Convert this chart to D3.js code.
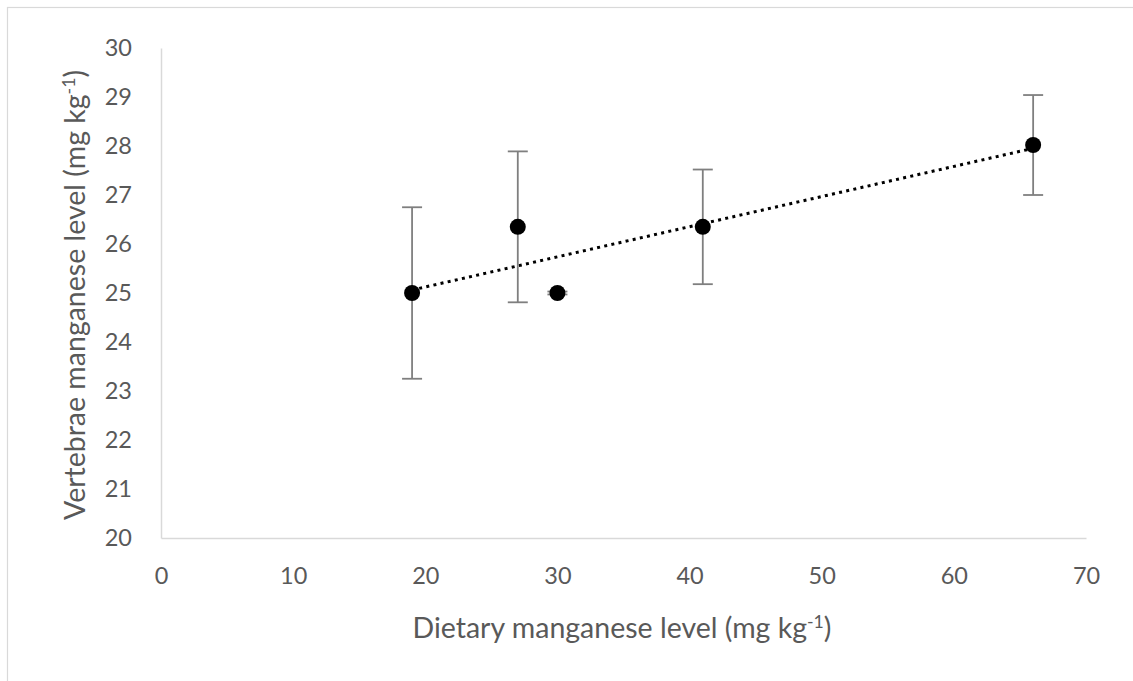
<!DOCTYPE html>
<html>
<head>
<meta charset="utf-8">
<script src="https://cdn.jsdelivr.net/npm/d3@7"></script>
<style>
  html, body { margin: 0; padding: 0; background: #fff; }
  svg { display: block; }
  .axis text { font-family: Lato, "Open Sans", sans-serif; fill: #595959; }
</style>
</head>
<body>
<svg id="chart" width="1133" height="681"></svg>
<script>
// Dietary Mn level vs. vertebrae Mn level (mean ± error)
const doses  = [19, 27, 30, 41, 66];
const means  = [25.0, 26.35, 25.0, 26.35, 28.02];
const errors = [1.75, 1.54, 0.03, 1.17, 1.02];

const xTicks = [0, 10, 20, 30, 40, 50, 60, 70];
const yTicks = [20, 21, 22, 23, 24, 25, 26, 27, 28, 29, 30];

const xTitle = "Dietary manganese level (mg kg";
const yTitle = "Vertebrae manganese level (mg kg";
const sup = "-1";

const svg = d3.select("#chart");
const W = 1133, H = 681;

// chart area frame
svg.append("rect")
  .attr("x", 7.5).attr("y", 7.5)
  .attr("width", W + 20).attr("height", H + 20)
  .attr("fill", "#fff").attr("stroke", "#d9d9d9").attr("stroke-width", 1.2);

const plot = { left: 161, right: 1086, top: 48, bottom: 538 };

const x = d3.scaleLinear().domain([0, 70]).range([plot.left, plot.right]);
const y = d3.scaleLinear().domain([20, 30]).range([plot.bottom, plot.top]);

// axes
const gx = svg.append("g").attr("class", "axis")
  .attr("transform", `translate(0,${plot.bottom})`)
  .call(d3.axisBottom(x).tickValues(xTicks).tickSize(0).tickPadding(29).tickFormat(d3.format("d")));
const gy = svg.append("g").attr("class", "axis")
  .attr("transform", `translate(${plot.left},0)`)
  .call(d3.axisLeft(y).tickValues(yTicks).tickSize(0).tickPadding(29).tickFormat(d3.format("d")));

[gx, gy].forEach(g => {
  g.select(".domain").attr("stroke", "#d9d9d9").attr("stroke-width", 1.5);
  g.selectAll("text").style("font-size", "23.5px");
});

// linear trendline (least squares)
const mx = d3.mean(doses), my = d3.mean(means);
const sxy = d3.sum(doses, (d, i) => (d - mx) * (means[i] - my));
const sxx = d3.sum(doses, d => (d - mx) * (d - mx));
const slope = sxy / sxx, intercept = my - slope * mx;
const x0 = d3.min(doses), x1 = d3.max(doses);

svg.append("line")
  .attr("x1", x(x0)).attr("y1", y(intercept + slope * x0))
  .attr("x2", x(x1)).attr("y2", y(intercept + slope * x1))
  .attr("stroke", "#000").attr("stroke-width", 3)
  .attr("stroke-dasharray", "3,4.3");

// error bars
const cap = 10;
const eb = svg.append("g").attr("stroke", "#7f7f7f").attr("stroke-width", 1.8).attr("fill", "none");
doses.forEach((d, i) => {
  const cx = x(d), top = y(means[i] + errors[i]), bot = y(means[i] - errors[i]);
  eb.append("line").attr("x1", cx).attr("x2", cx).attr("y1", top).attr("y2", bot);
  eb.append("line").attr("x1", cx - cap).attr("x2", cx + cap).attr("y1", top).attr("y2", top);
  eb.append("line").attr("x1", cx - cap).attr("x2", cx + cap).attr("y1", bot).attr("y2", bot);
});

// markers
svg.append("g").selectAll("circle")
  .data(doses)
  .join("circle")
  .attr("cx", d => x(d))
  .attr("cy", (d, i) => y(means[i]))
  .attr("r", 8)
  .attr("fill", "#000");

// axis titles
function title(parent, text, size, attrs) {
  const t = parent.append("text")
    .attr("text-anchor", "middle")
    .style("font-family", "Lato, 'Open Sans', sans-serif")
    .style("font-size", size + "px")
    .attr("fill", "#595959");
  Object.entries(attrs).forEach(([k, v]) => t.attr(k, v));
  t.append("tspan").text(text);
  t.append("tspan").attr("dy", -10).style("font-size", (size * 0.62) + "px").text(sup);
  t.append("tspan").attr("dy", 10).text(")");
  return t;
}
title(svg, xTitle, 28.5, { x: 622, y: 638 });
title(svg, yTitle, 28.5, { transform: "translate(85,295) rotate(-90)" });
</script>
</body>
</html>
